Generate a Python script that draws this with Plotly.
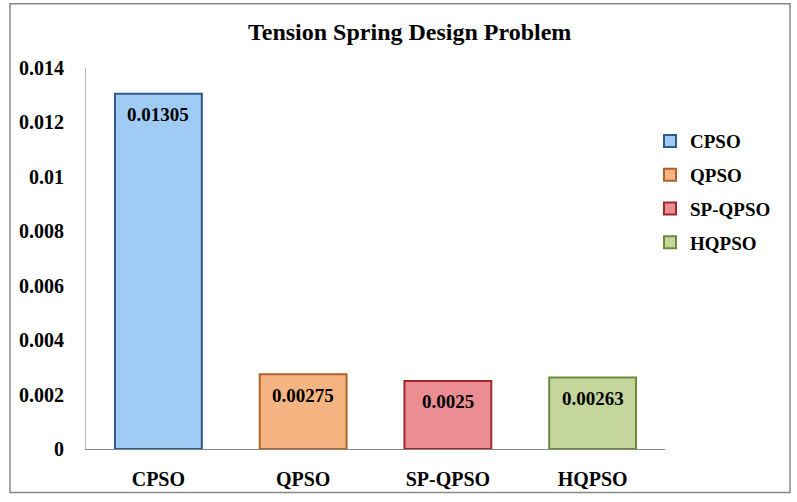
import plotly.graph_objects as go

categories = ["CPSO", "QPSO", "SP-QPSO", "HQPSO"]
values = [0.01305, 0.00275, 0.0025, 0.00263]
labels = ["0.01305", "0.00275", "0.0025", "0.00263"]
fill_colors = ["#a0cbf5", "#f6b482", "#eb8d93", "#c5d69d"]
edge_colors = ["#2f5b8a", "#b0622a", "#a0272c", "#6c8a3c"]
y_ticks = [0, 0.002, 0.004, 0.006, 0.008, 0.01, 0.012, 0.014]
y_ticktext = ["0", "0.002", "0.004", "0.006", "0.008", "0.01", "0.012", "0.014"]

serif = "Liberation Serif, Times New Roman, serif"

fig = go.Figure()
for i, (c, v) in enumerate(zip(categories, values)):
    fig.add_trace(go.Bar(
        x=[c], y=[v], name="<b>%s</b>" % c,
        marker=dict(color=fill_colors[i], line=dict(color=edge_colors[i], width=2)),
        width=0.6, legendgroup=c,
    ))

annotations = [
    dict(x=c, y=v, xref="x", yref="y", text="<b>%s</b>" % t, showarrow=False,
         yanchor="middle", yshift=-21,
         font=dict(family=serif, size=19, color="black"))
    for c, v, t in zip(categories, values, labels)
]

L, R, T, B = 86, 132, 68, 49
W, H = 797, 502
pw, ph = W - L - R, H - T - B

fig.update_layout(
    width=W, height=H,
    margin=dict(l=L, r=R, t=T, b=B),
    paper_bgcolor="white", plot_bgcolor="white",
    barmode="overlay",
    title=dict(text="<b>Tension Spring Design Problem</b>", x=0.514, xanchor="center",
               y=1 - 32 / H, yanchor="middle",
               font=dict(family=serif, size=24, color="black")),
    font=dict(family=serif, color="black"),
    legend=dict(x=(650 - L) / pw, xanchor="left", y=(453 - 193) / ph, yanchor="middle",
                font=dict(family=serif, size=19, color="black"),
                tracegroupgap=6, itemwidth=30, bgcolor="rgba(0,0,0,0)"),
    xaxis=dict(showline=True, linecolor="#888888", linewidth=1,
               ticks="outside", ticklen=12, tickcolor="rgba(0,0,0,0)",
               tickfont=dict(family=serif, size=20, color="black"),
               tickprefix="<b>", ticksuffix="</b>", showgrid=False),
    yaxis=dict(range=[0, 0.014], showline=True, linecolor="#bbbbbb", linewidth=1,
               tickvals=y_ticks, ticktext=["<b>%s</b>" % s for s in y_ticktext],
               ticks="outside", ticklen=17, tickcolor="rgba(0,0,0,0)",
               tickfont=dict(family=serif, size=20, color="black"),
               showgrid=False, zeroline=False),
    annotations=annotations,
    shapes=[dict(type="rect", xref="paper", yref="paper",
                 x0=(10 - L) / pw, x1=(790 - L) / pw,
                 y0=(453 - 497) / ph, y1=(453 - 3) / ph,
                 line=dict(color="#888888", width=1.5), fillcolor="rgba(0,0,0,0)")],
)

fig.write_html("out.html", config={"displayModeBar": False},
               post_script="document.body.style.margin='0';document.body.style.overflow='hidden';")
